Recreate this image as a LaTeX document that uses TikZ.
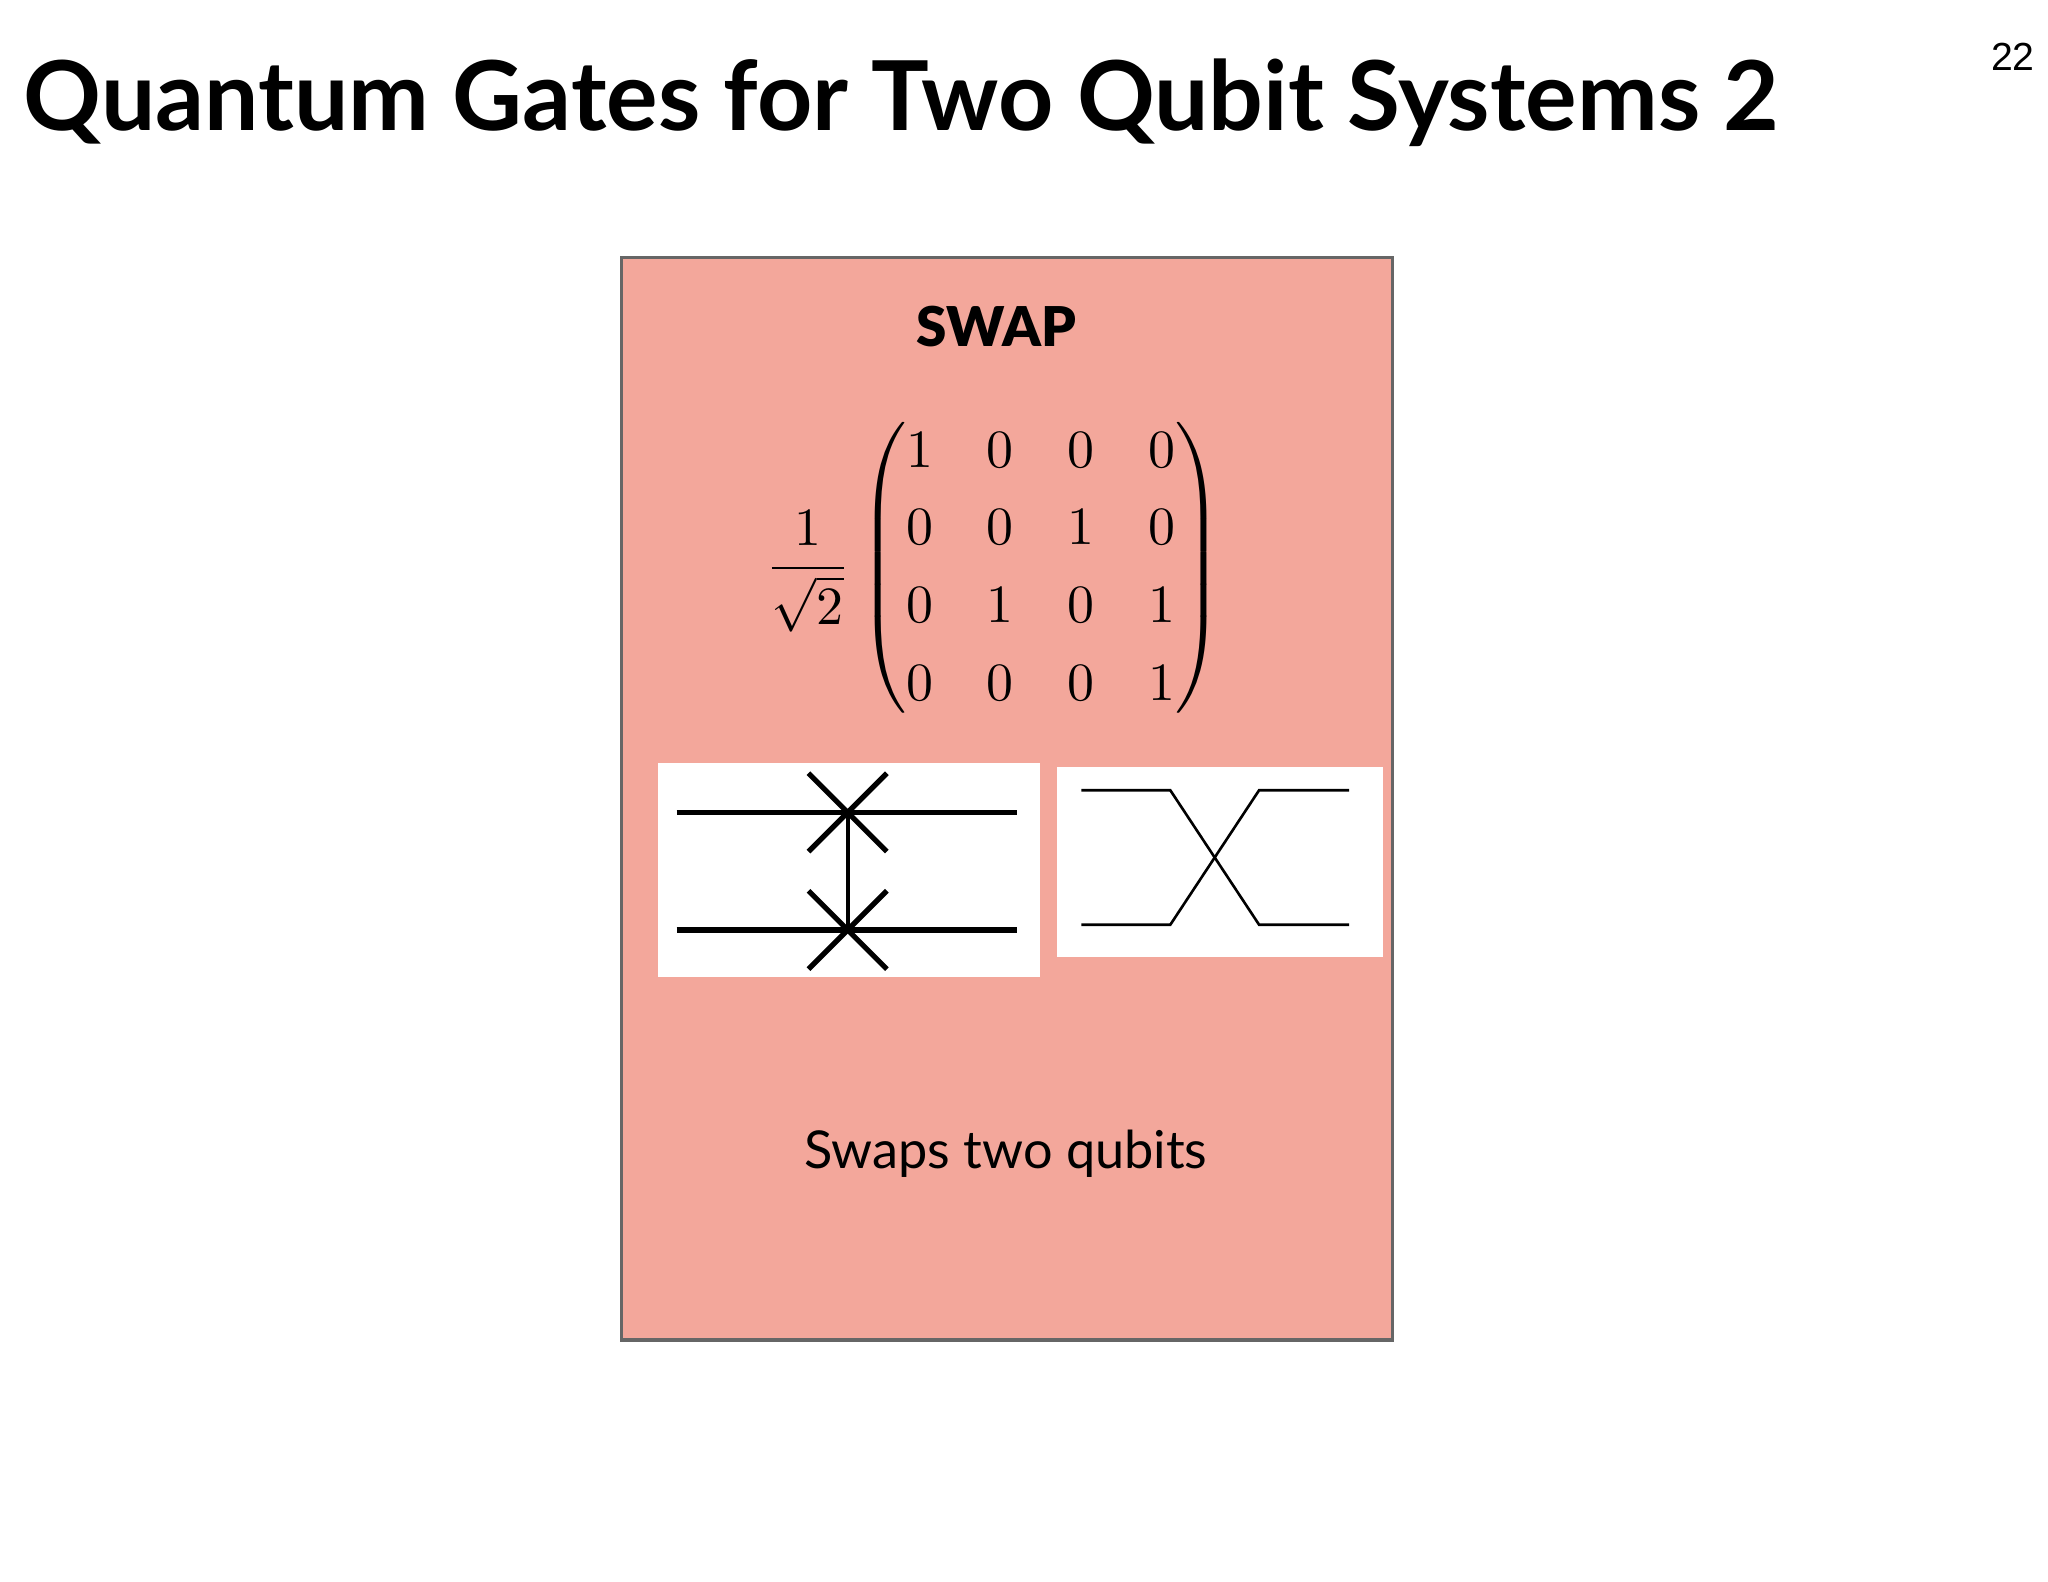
\documentclass[tikz,border=0pt]{standalone}
\usepackage{fontspec}
\usepackage{amsmath}
\setmainfont{Lato}
\definecolor{salmon}{HTML}{F3A79B}
\definecolor{bordergray}{HTML}{666666}
\begin{document}
\begin{tikzpicture}[x=1pt,y=-1pt,
  wl/.style={line width=4pt},
  thin/.style={line width=2pt}]
\useasboundingbox[fill=white] (0,0) rectangle (1568,1211);
\node[anchor=base west,inner sep=0,font=\bfseries] (title) at (18,100)
  {\resizebox{1344pt}{!}{\fontspec{Lato Black}Quantum Gates for Two Qubit Systems 2}};
\node[anchor=base east,inner sep=0,font=\fontsize{30}{30}\selectfont\fontspec{Liberation Sans}] (pg) at (1558,54) {22};
\draw[fill=salmon,draw=bordergray,line width=2.5pt] (476,197) rectangle (1066,1026);
\node[inner sep=0,font=\fontsize{42}{42}\selectfont\fontspec{Lato Black}] (swap) at (763,250) {SWAP};
\node[inner sep=0] (mat) at (761,435) {\resizebox{350pt}{!}{$\renewcommand{\arraystretch}{1.2}\dfrac{1}{\sqrt{2}}\begin{pmatrix}1&0&0&0\\0&0&1&0\\0&1&0&1\\0&0&0&1\end{pmatrix}$}};
\fill[white] (504,584) rectangle (796,748);
\fill[white] (809,587) rectangle (1059,733);
\coordinate (x1) at (649,622);
\coordinate (x2) at (649,712);
\draw[wl] (518,622) -- (779,622);
\draw[wl] (518,712) -- (779,712);
\draw[line width=3pt] (x1) -- (x2);
\foreach \c in {x1,x2}{
  \draw[wl] ([shift={(-30,-30)}]\c) -- ([shift={(30,30)}]\c);
  \draw[wl] ([shift={(-30,30)}]\c) -- ([shift={(30,-30)}]\c);}
\draw[thin] (828,605) -- (896,605) -- (964,708) -- (1033,708);
\draw[thin] (828,708) -- (896,708) -- (964,605) -- (1033,605);
\node[inner sep=0,font=\fontsize{40}{40}\selectfont] (cap) at (770,883) {Swaps two qubits};
\end{tikzpicture}
\end{document}
